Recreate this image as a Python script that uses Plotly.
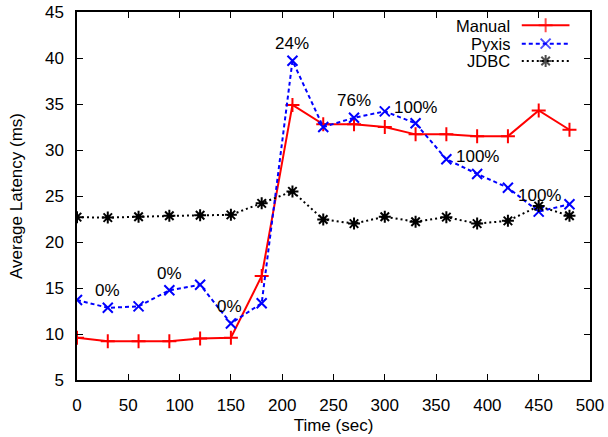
import plotly.graph_objects as go

time_sec = [0, 30, 60, 90, 120, 150, 180, 210, 240, 270, 300, 330, 360, 390, 420, 450, 480]
manual = [9.6, 9.2, 9.2, 9.2, 9.5, 9.6, 16.3, 34.9, 32.8, 32.8, 32.5, 31.7, 31.7, 31.5, 31.5, 34.3, 32.2]
pyxis = [13.7, 12.85, 13.0, 14.75, 15.35, 11.15, 13.35, 39.7, 32.5, 33.5, 34.2, 32.9, 29.0, 27.4, 25.9, 23.3, 24.1]
jdbc = [22.7, 22.65, 22.75, 22.85, 22.9, 22.95, 24.2, 25.5, 22.45, 22.0, 22.75, 22.2, 22.7, 22.0, 22.3, 23.9, 22.85]

label_text = ["0%", "0%", "0%", "24%", "76%", "100%", "100%", "100%"]
label_x = [29.5, 90, 149, 210, 270, 330, 390, 451]
label_y = [14.7, 16.6, 13.0, 41.6, 35.4, 34.6, 29.3, 25.1]

x_ticks = list(range(0, 501, 50))
y_ticks = list(range(5, 46, 5))

FONT = "Liberation Sans, Arial, sans-serif"
FS = 17

series = [
    ("Manual", manual, "#ff0000", "solid", "cross-thin-open"),
    ("Pyxis", pyxis, "#0000ff", "4px,3px", "x-thin-open"),
    ("JDBC", jdbc, "#000000", "2px,3px", "asterisk-open"),
]

fig = go.Figure()
for name, vals, col, dash, sym in series:
    fig.add_trace(go.Scatter(
        x=time_sec, y=vals, name=name, mode="lines+markers",
        line=dict(color=col, width=2, dash=dash),
        marker=dict(symbol=sym, size=10, color=col, line=dict(color=col, width=2)),
        showlegend=False,
    ))

# custom gnuplot-style legend (text left, sample right) on a hidden overlay axis
row_y = [0.964, 0.914, 0.867]
for (name, vals, col, dash, sym), ry in zip(series, row_y):
    fig.add_trace(go.Scatter(
        x=[0.867, 0.9135, 0.96], y=[ry, ry, ry], mode="lines+markers",
        xaxis="x2", yaxis="y2",
        line=dict(color=col, width=2, dash=dash),
        marker=dict(symbol=sym, size=[0, 10, 0], color=col, line=dict(color=col, width=2)),
        showlegend=False, hoverinfo="skip",
    ))
    fig.add_annotation(x=0.846, y=ry, xref="paper", yref="paper", text=name,
                       showarrow=False, xanchor="right", yanchor="middle", height=17, borderpad=0,
                       font=dict(family=FONT, size=FS - 0.5, color="black"))

for t, lx, ly in zip(label_text, label_x, label_y):
    fig.add_annotation(x=lx, y=ly, text=t, showarrow=False, xanchor="center", yanchor="middle",
                       font=dict(family=FONT, size=FS, color="black"))

axis_common = dict(
    showline=True, linecolor="black", linewidth=1.5, mirror="ticks",
    ticks="inside", ticklen=6, tickwidth=1, tickcolor="black",
    showgrid=False, zeroline=False, automargin=False,
    tickfont=dict(family=FONT, size=FS, color="black"),
)

fig.update_layout(
    width=608, height=437,
    margin=dict(l=77, r=18, t=12, b=57, autoexpand=False),
    paper_bgcolor="white", plot_bgcolor="white",
    font=dict(family=FONT, size=FS, color="black"),
    xaxis=dict(range=[0, 500], tickvals=x_ticks, ticklabelstandoff=9,
               title=dict(text="Time (sec)", standoff=5, font=dict(family=FONT, size=FS)),
               **axis_common),
    yaxis=dict(range=[5, 45], tickvals=y_ticks, ticklabelstandoff=8,
               title=dict(text="Average Latency (ms)", standoff=18, font=dict(family=FONT, size=FS)),
               **axis_common),
    xaxis2=dict(range=[0, 1], overlaying="x", visible=False, anchor="y2"),
    yaxis2=dict(range=[0, 1], overlaying="y", visible=False, anchor="x2"),
    showlegend=False,
)

fig.write_html("out.html", config={"displayModeBar": False},
               post_script="document.body.style.margin='0';document.body.style.overflow='hidden';")
